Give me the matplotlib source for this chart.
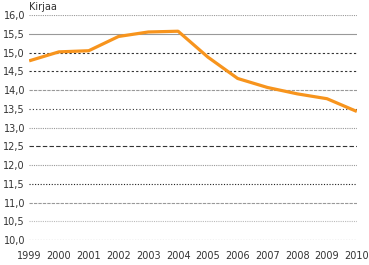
import matplotlib
matplotlib.use('Agg')
import matplotlib.pyplot as plt

years = [1999, 2000, 2001, 2002, 2003, 2004, 2005, 2006, 2007, 2008, 2009, 2010]
books = [14.78, 15.02, 15.05, 15.43, 15.55, 15.57, 14.88, 14.31, 14.07, 13.90, 13.77, 13.43]

yticks = [10.0 + 0.5 * i for i in range(13)]
ylabels = ['%.1f' % v for v in yticks]
ylabels = [s.replace('.', ',') for s in ylabels]

# grid styles copied roughly from the reference (it mixes them)
grid_styles = {
    16.0: ('#999999', (0, (1, 1))),
    15.5: ('#999999', '-'),
    15.0: ('#333333', (0, (2, 2))),
    14.5: ('#333333', (0, (2, 2))),
    14.0: ('#999999', (0, (3, 1))),
    13.5: ('#333333', (0, (1, 2))),
    13.0: ('#999999', (0, (1, 1))),
    12.5: ('#333333', (0, (4, 2))),
    12.0: ('#999999', (0, (1, 1))),
    11.5: ('#222222', (0, (1, 1.5))),
    11.0: ('#999999', (0, (3, 1))),
    10.5: ('#bbbbbb', (0, (1, 1))),
    10.0: ('#333333', (0, (1, 1.5))),
}

fig = plt.figure(figsize=(3.69, 2.65), dpi=100)
ax = fig.add_axes([0.079, 0.094, 0.888, 0.849])

for v in yticks:
    c, ls = grid_styles[v]
    ax.axhline(v, color=c, linestyle=ls, linewidth=0.8, zorder=1)

ax.plot(years, books, color='#F7941D', linewidth=2.3, zorder=3, solid_capstyle='butt')

ax.set_xlim(1999, 2010)
ax.set_ylim(10.0, 16.0)
ax.set_yticks(yticks)
ax.set_yticklabels(ylabels)
ax.set_xticks(years)
ax.set_xticklabels([str(y) for y in years])
ax.tick_params(axis='both', length=0, labelsize=7, colors='#333333')
ax.tick_params(axis='x', pad=8)
ax.tick_params(axis='y', pad=3)
for s in ax.spines.values():
    s.set_visible(False)

ax.text(0.0, 1.015, 'Kirjaa', transform=ax.transAxes, fontsize=7, color='#333333',
        ha='left', va='bottom')

fig.savefig('out.png', dpi=100)
